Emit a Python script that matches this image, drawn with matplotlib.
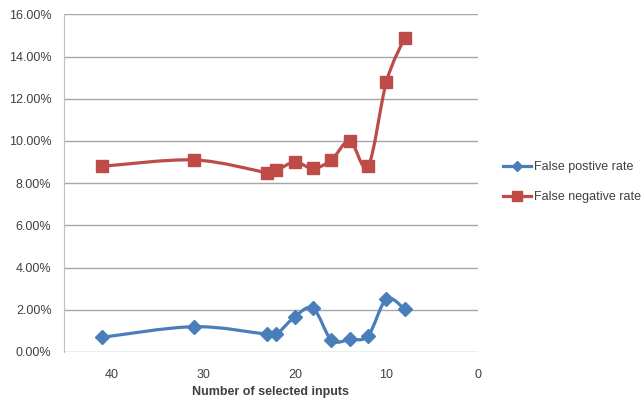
import matplotlib
matplotlib.use("Agg")
import matplotlib.pyplot as plt
import numpy as np
from matplotlib.path import Path
from matplotlib.patches import PathPatch
from matplotlib.lines import Line2D
from matplotlib.ticker import FuncFormatter

inputs = [41, 31, 23, 22, 20, 18, 16, 14, 12, 10, 8]
false_pos = [0.7, 1.2, 0.84, 0.84, 1.67, 2.07, 0.57, 0.6, 0.77, 2.51, 2.02]
false_neg = [8.8, 9.1, 8.5, 8.6, 9.0, 8.7, 9.1, 10.0, 8.8, 12.8, 14.9]

blue = '#4A7EBB'
red = '#BE4B48'

plt.rcParams['font.family'] = ['Liberation Sans', 'DejaVu Sans']


def smooth_path(xs, ys):
    # catmull-rom -> cubic bezier, like excel "smoothed line"
    p = np.column_stack([xs, ys]).astype(float)
    n = len(p)
    verts = [p[0]]
    codes = [Path.MOVETO]
    for i in range(n - 1):
        p0 = p[i - 1] if i > 0 else p[i]
        p3 = p[i + 2] if i + 2 < n else p[i + 1]
        c1 = p[i] + (p[i + 1] - p0) / 6
        c2 = p[i + 1] - (p3 - p[i]) / 6
        verts += [c1, c2, p[i + 1]]
        codes += [Path.CURVE4] * 3
    return Path(verts, codes)


fig = plt.figure(figsize=(6.44, 4.07), dpi=100)
ax = fig.add_axes([64 / 644, 55 / 407, 414 / 644, 337.7 / 407])

for ys, c, m, ms in [(false_pos, blue, 'D', 7), (false_neg, red, 's', 8)]:
    ax.add_patch(PathPatch(smooth_path(inputs, ys), fill=False, edgecolor=c,
                           lw=2.3, capstyle='round', joinstyle='round', zorder=3))
    ax.plot(inputs, ys, linestyle='none', marker=m, markersize=ms, color=c, zorder=4)

ax.set_xlim(45.2, 0)
ax.set_ylim(0, 16)
ax.set_xticks([40, 30, 20, 10, 0])
ax.set_yticks(np.arange(0, 17, 2))
ax.yaxis.set_major_formatter(FuncFormatter(lambda v, p: '%.2f%%' % v))
ax.grid(axis='y', color='#A6A6A6', lw=1)
ax.set_axisbelow(True)
for s in ['top', 'right', 'bottom']:
    ax.spines[s].set_visible(False)
ax.spines['left'].set_color('#BFBFBF')
ax.tick_params(length=0, labelsize=9, colors='#404040')
ax.tick_params(axis='y', pad=9)
ax.tick_params(axis='x', pad=12)
ax.set_xlabel('Number of selected inputs', fontsize=9, fontweight='bold',
              color='#404040', labelpad=4)

handles = [Line2D([], [], color=blue, lw=2.3, marker='D', markersize=5),
           Line2D([], [], color=red, lw=2.3, marker='s', markersize=7)]
fig.legend(handles, ['False postive rate', 'False negative rate'],
           loc='center left', bbox_to_anchor=(0.764, 0.552), frameon=False,
           fontsize=9, labelspacing=1.45, handlelength=2.2, handletextpad=0.25,
           labelcolor='#404040')

fig.savefig('out.png', dpi=100)
